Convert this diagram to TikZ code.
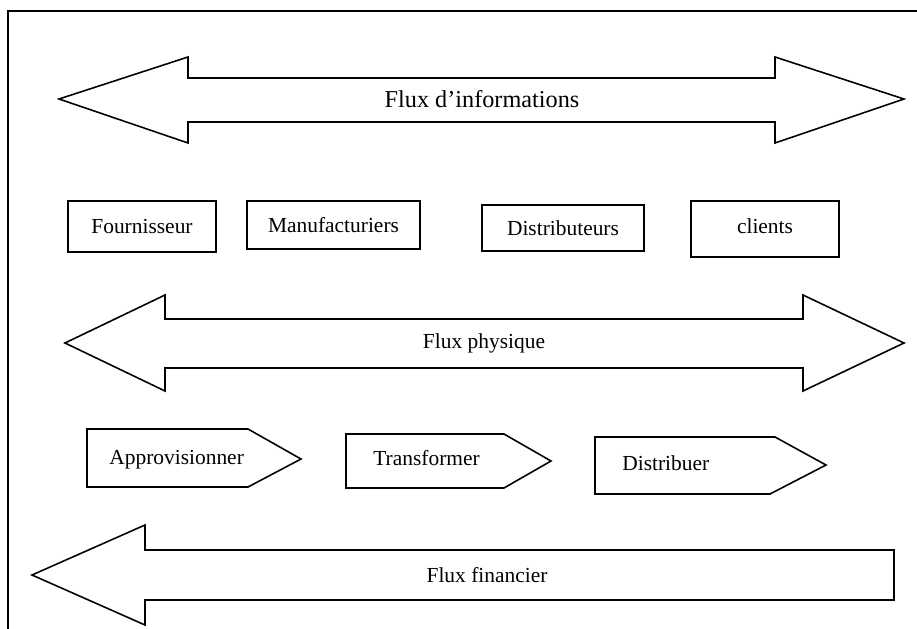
\documentclass[tikz,border=0pt]{standalone}
\usepackage{fontspec}
\setmainfont{Liberation Serif}

\tikzset{
  contour/.style={draw, line width=0.9pt, line join=miter},
  boite/.style={draw, line width=1.1pt, inner sep=0pt, font=\fontsize{12.2}{14}\selectfont},
  etiquette/.style={inner sep=0pt, font=\fontsize{12.2}{14}\selectfont},
}

\begin{document}
\begin{tikzpicture}[x=0.02cm, y=-0.02cm]
\useasboundingbox (0,0) rectangle (917,629);
%\draw[help lines, color=gray!30] (0,0) grid[step=50] (917,629);
\draw [line width=1pt] (8,629) -- (8,11) -- (917,11);

% flux d'informations
\draw [contour] (59,99) -- (188,57) -- (188,78) -- (775,78) -- (775,57) -- (904,99)
  -- (775,143) -- (775,122) -- (188,122) -- (188,143) -- cycle;
\node [etiquette, font=\fontsize{13.8}{16}\selectfont] (info) at (482,99) {Flux d'informations};

% acteurs
\node [boite, minimum width=148*0.2mm, minimum height=51*0.2mm] (fournisseur) at (142,226.5) {Fournisseur};
\node [boite, minimum width=173*0.2mm, minimum height=48*0.2mm] (manufacturiers) at (333.5,225) {Manufacturiers};
\node [boite, minimum width=162*0.2mm, minimum height=46*0.2mm] (distributeurs) at (563,228) {Distributeurs};
\node [boite, minimum width=148*0.2mm, minimum height=56*0.2mm, text depth=1.2mm] (clients) at (765,229) {clients};

% flux physique
\draw [contour] (65,343) -- (165,295) -- (165,319) -- (803,319) -- (803,295) -- (904,343)
  -- (803,391) -- (803,368) -- (165,368) -- (165,391) -- cycle;
\node [etiquette] (physique) at (484,343) {Flux physique};

% processus
\draw [contour] (87,429) -- (248,429) -- (301,459) -- (248,487) -- (87,487) -- cycle;
\node [etiquette, anchor=west] (approvisionner) at (109,460) {Approvisionner};

\draw [contour] (346,434) -- (504,434) -- (551,461) -- (504,488) -- (346,488) -- cycle;
\node [etiquette, anchor=west] (transformer) at (373,458) {Transformer};

\draw [contour] (595,437) -- (775,437) -- (826,465) -- (770,494) -- (595,494) -- cycle;
\node [etiquette, anchor=west] (distribuer) at (622,463) {Distribuer};

% flux financier
\draw [contour] (32,575) -- (145,525) -- (145,550) -- (894,550) -- (894,600)
  -- (145,600) -- (145,625) -- cycle;
\node [etiquette] (financier) at (487,575) {Flux financier};

\end{tikzpicture}
\end{document}
